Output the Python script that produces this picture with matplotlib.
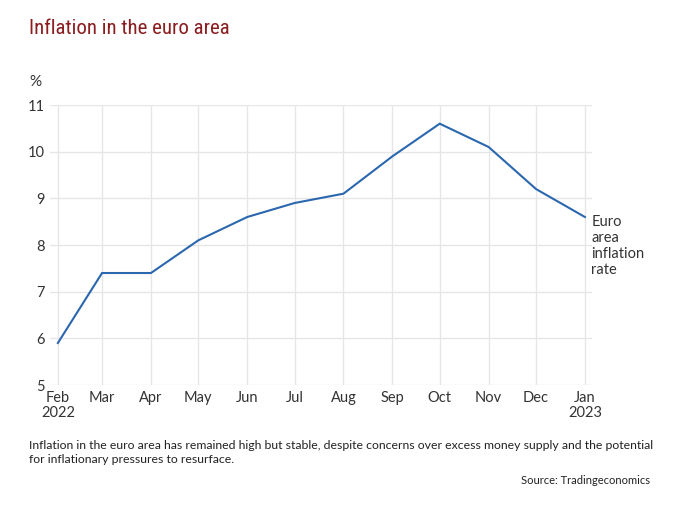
from datetime import date
import matplotlib
matplotlib.use('Agg')
from matplotlib import pyplot as plt
import matplotlib.dates as mdates
from matplotlib import font_manager

# %% data
months = [date(2022, m, 1) for m in range(2, 13)] + [date(2023, 1, 1)]
month_labels = ['Feb\n2022', 'Mar', 'Apr', 'May', 'Jun', 'Jul', 'Aug',
                'Sep', 'Oct', 'Nov', 'Dec', 'Jan\n2023']
inflation = [5.9, 7.4, 7.4, 8.1, 8.6, 8.9, 9.1, 9.9, 10.6, 10.1, 9.2, 8.6]
y_ticks = [5, 6, 7, 8, 9, 10, 11]

TITLE = 'Inflation in the euro area'
CAPTION = ('Inflation in the euro area has remained high but stable, despite concerns '
           'over excess money supply and the potential\nfor inflationary pressures to resurface.')
SOURCE = 'Source: Tradingeconomics'

# %% style
names = {f.name for f in font_manager.fontManager.ttflist}
title_font = [n for n in ['Liberation Sans Narrow', 'Roboto Condensed', 'Open Sans Condensed']
              if n in names] + ['Lato']
plt.rcParams['font.family'] = ['Lato', 'DejaVu Sans']
TXT = '#333333'
GRID = '#e6e6e6'
LINE = '#2a67ae'

fig = plt.figure(figsize=(6.8, 5.13), dpi=100)
ax = fig.add_axes([0.0735, 0.2495, 0.7971, 0.5458])

ax.plot(months, inflation, color=LINE, lw=1.5, solid_joinstyle='miter')

ax.set_ylim(5, 11)
ax.set_yticks(y_ticks)
ax.set_xticks(months)
ax.set_xticklabels(month_labels)
ax.set_xlim(mdates.date2num(months[0]) - 5, mdates.date2num(months[-1]) + 4.5)

ax.grid(True, color=GRID, lw=1)
ax.set_axisbelow(True)
for s in ax.spines.values():
    s.set_visible(False)
ax.tick_params(length=0, labelsize=10.5, colors=TXT, pad=4)
ax.tick_params(axis='x', pad=4)
for lab in ax.get_xticklabels():
    lab.set_linespacing(1.15)

ax.text(mdates.date2num(months[-1]) + 4, inflation[-1] + 0.05, 'Euro\narea\ninflation\nrate',
        fontsize=10.5, color=TXT, va='top', ha='left', linespacing=1.2)

fig.text(29 / 680, 1 - 82 / 513, '%', fontsize=11, color=TXT, va='center', ha='left')
fig.text(29 / 680, 1 - 28 / 513, TITLE, fontsize=15, color='#8b1c1f', va='center', ha='left',
         family=title_font)
fig.text(29 / 680, 1 - 440 / 513, CAPTION, fontsize=8.8, color='#222222', va='top', ha='left',
         linespacing=1.3)
fig.text(650 / 680, 1 - 480 / 513, SOURCE, fontsize=8, color='#222222', va='center', ha='right')

fig.savefig('out.png', dpi=100)
